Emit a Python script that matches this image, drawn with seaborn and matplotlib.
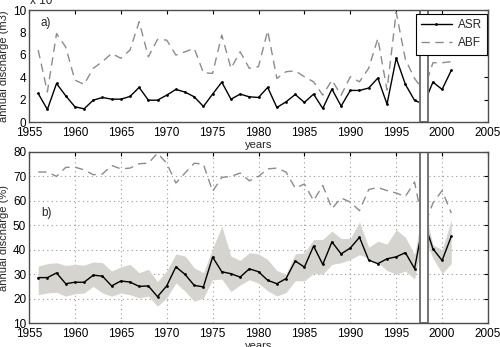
import numpy as np
import pandas as pd
import matplotlib
matplotlib.use('Agg')
import matplotlib.pyplot as plt
import seaborn as sns

# values
years = list(range(1956, 2002))

asr_m3 = [2.56, 1.13, 3.45, 2.35, 1.37, 1.19, 1.96, 2.2, 2.05, 2.05,
          2.29, 3.1, 1.96, 1.96, 2.41, 2.92, 2.68, 2.26, 1.4, 2.5,
          3.57, 2.05, 2.5, 2.26, 2.2, 3.1, 1.31, 1.81, 2.47, 1.76,
          2.5, 1.22, 2.95, 1.43, 2.83, 2.83, 3.04, 3.93, 1.61, 5.71,
          3.37, 1.94, 1.6, 3.57, 2.92, 4.62]
abf_m3 = [6.43, 2.7, 7.9, 6.7, 3.75, 3.37, 4.8, 5.4, 6.13, 5.7,
          6.43, 8.96, 5.83, 7.38, 7.32, 5.98, 6.28, 6.58, 4.4, 4.35,
          7.77, 4.8, 6.28, 4.8, 4.95, 8.15, 3.9, 4.5, 4.58, 4.05,
          3.6, 2.41, 3.75, 2.4, 4.05, 3.6, 4.8, 7.47, 2.86, 9.8,
          5.6, 3.9, 2.8, 5.3, 5.3, 5.4]

asr_pct = [28.6, 28.6, 30.5, 26.1, 26.7, 26.7, 29.6, 29.2, 25.2, 27.2,
           26.8, 25.0, 25.2, 20.8, 25.2, 33.0, 29.9, 25.4, 24.8, 37.0,
           31.0, 30.2, 28.8, 32.2, 31.0, 27.5, 26.1, 28.2, 35.4, 32.9,
           41.5, 34.0, 43.2, 38.3, 40.7, 45.1, 35.8, 34.3, 36.3, 37.1,
           38.8, 32.3, 52.0, 40.4, 35.6, 45.5]
abf_pct = [71.8, 71.8, 70.0, 73.7, 73.8, 72.7, 70.7, 71.0, 74.5, 73.1,
           73.4, 75.2, 75.4, 79.5, 75.4, 67.3, 71.4, 75.4, 75.0, 63.9,
           69.6, 70.0, 71.4, 68.2, 70.0, 73.1, 73.4, 71.8, 65.2, 66.9,
           60.1, 66.3, 56.8, 61.2, 59.5, 56.0, 64.6, 65.5, 64.2, 63.2,
           61.8, 67.7, 49.0, 59.1, 64.2, 55.0]
asr_upper = [33.3, 34.3, 34.7, 33.6, 34.0, 33.7, 35.0, 34.7, 31.3, 33.0,
             34.0, 30.6, 32.0, 27.0, 31.3, 38.3, 37.4, 32.6, 30.6, 40.5,
             49.6, 37.4, 35.6, 38.8, 38.3, 36.0, 31.5, 30.0, 38.3, 38.7,
             44.2, 44.2, 47.6, 44.6, 44.6, 51.4, 41.0, 43.5, 42.3, 48.2,
             45.1, 38.0, 58.0, 42.0, 40.0, 52.3]
asr_lower = [21.6, 22.3, 22.6, 21.0, 22.0, 22.3, 25.0, 22.3, 21.0, 22.3,
             21.6, 20.3, 21.0, 16.9, 20.3, 26.4, 23.0, 18.9, 20.3, 27.7,
             28.0, 22.9, 25.6, 27.7, 26.3, 23.2, 21.1, 22.5, 27.3, 27.3,
             30.3, 30.0, 34.0, 34.7, 36.0, 38.0, 36.6, 34.7, 31.5, 30.0,
             31.3, 28.0, 46.0, 36.6, 30.3, 34.3]

df = pd.DataFrame({'year': years, 'asr_m3': asr_m3, 'abf_m3': abf_m3,
                   'asr_pct': asr_pct, 'abf_pct': abf_pct,
                   'up': asr_upper, 'lo': asr_lower})

sns.set_style('white')
plt.rcParams['font.family'] = ['Liberation Sans', 'DejaVu Sans']
plt.rcParams['font.size'] = 8.5

fig = plt.figure(figsize=(5.0, 3.47), dpi=100)
ax1 = fig.add_axes([0.058, 0.648, 0.918, 0.323])
ax2 = fig.add_axes([0.058, 0.069, 0.918, 0.493])

gap = (1997.55, 1998.5)
xticks = list(range(1955, 2006, 5))

# --- panel a: volumes
sns.lineplot(data=df, x='year', y='asr_m3', ax=ax1, color='black', lw=1.0,
             marker='o', markersize=2, markeredgewidth=0, label='ASR')
sns.lineplot(data=df, x='year', y='abf_m3', ax=ax1, color='0.55', lw=1.0,
             label='ABF')
ax1.lines[1].set_dashes((6, 4))
ax1.axvspan(*gap, facecolor='white', edgecolor='0.45', lw=1.4, zorder=3)
ax1.set_xlim(1955, 2005)
ax1.set_ylim(0, 10)
ax1.set_yticks([0, 2, 4, 6, 8, 10])
ax1.set_xticks(xticks)
ax1.set_xlabel('years', labelpad=1, fontsize=8)
ax1.set_ylabel('annual discharge (m3)', fontsize=8)
ax1.yaxis.set_label_coords(-0.043, 0.5)
ax1.text(1956.3, 8.6, 'a)', fontsize=8.5)
leg = ax1.legend(loc='upper right', bbox_to_anchor=(0.998, 0.965),
                 fancybox=False, framealpha=1, edgecolor='black',
                 handlelength=2.6, borderaxespad=0, handletextpad=0.5,
                 borderpad=0.45, labelspacing=0.5, fontsize=8.5)
leg.get_frame().set_linewidth(0.8)
leg.set_zorder(5)
fig.text(0.06, 0.997, 'x 10', fontsize=8.5, va='center')

# --- panel b: percentages with range band
ax2.fill_between(df['year'], df['lo'], df['up'], color='#d6d4ce', lw=0, zorder=1)
sns.lineplot(data=df, x='year', y='asr_pct', ax=ax2, color='black', lw=1.0,
             marker='o', markersize=2, markeredgewidth=0, zorder=2)
sns.lineplot(data=df, x='year', y='abf_pct', ax=ax2, color='0.55', lw=1.0, zorder=2)
ax2.lines[-1].set_dashes((6, 4))
ax2.axvspan(*gap, facecolor='white', edgecolor='0.45', lw=1.4, zorder=3)
ax2.set_xlim(1955, 2005)
ax2.set_ylim(10, 80)
ax2.set_yticks(range(10, 81, 10))
ax2.set_xticks(xticks)
ax2.grid(True, ls=(0, (1, 3)), color='0.6', lw=0.8)
ax2.set_axisbelow(True)
ax2.set_xlabel('years', labelpad=1, fontsize=8)
ax2.set_ylabel('annual discharge (%)', fontsize=8)
ax2.yaxis.set_label_coords(-0.043, 0.5)
ax2.text(1956.3, 54, 'b)', fontsize=8.5)

for ax in (ax1, ax2):
    ax.tick_params(direction='in', top=True, right=True, length=3,
                   width=0.8, labelsize=8.5, colors='black')
    ax.tick_params(axis='y', pad=2)
    ax.tick_params(axis='x', pad=3.5)
    for s in ax.spines.values():
        s.set_color('0.3')
        s.set_linewidth(1.0)
        s.set_zorder(6)

fig.savefig('out.png', dpi=100)
